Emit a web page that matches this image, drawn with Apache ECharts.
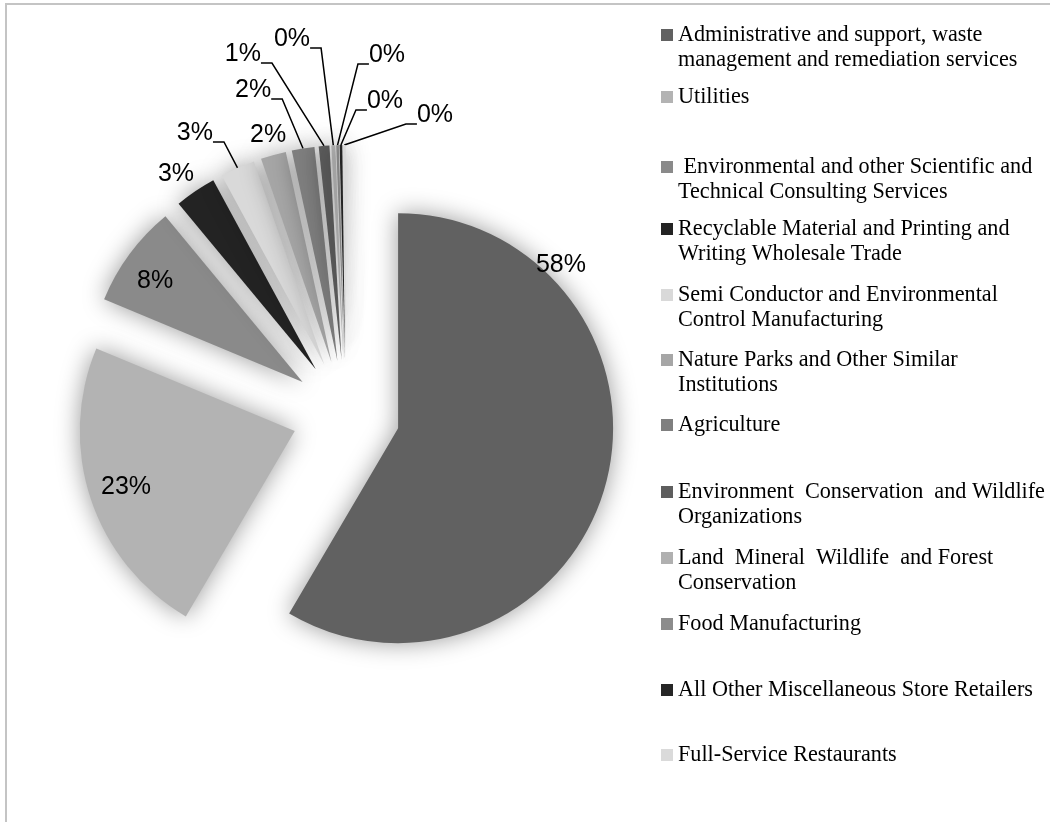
<!DOCTYPE html>
<html>
<head>
<meta charset="utf-8">
<script src="https://cdn.jsdelivr.net/npm/echarts@6/dist/echarts.min.js"></script>
<style>
  html, body { margin: 0; padding: 0; background: #fff; }
  #chart { width: 1050px; height: 822px; }
</style>
</head>
<body>
<div id="chart"></div>
<script>
// ---- data ----
const categories = [
  "Administrative and support, waste\nmanagement and remediation services",
  "Utilities",
  " Environmental and other Scientific and\nTechnical Consulting Services",
  "Recyclable Material and Printing and\nWriting Wholesale Trade",
  "Semi Conductor and Environmental\nControl Manufacturing",
  "Nature Parks and Other Similar\nInstitutions",
  "Agriculture",
  "Environment  Conservation  and Wildlife\nOrganizations",
  "Land  Mineral  Wildlife  and Forest\nConservation",
  "Food Manufacturing",
  "All Other Miscellaneous Store Retailers",
  "Full-Service Restaurants"
];
const shares = [58.4, 22.8, 7.7, 3.1, 2.6, 1.9, 1.7, 0.8, 0.3, 0.2, 0.2, 0.2];

// ---- styling / layout (not data) ----
const sliceColors = ["#616161", "#b3b3b3", "#8a8a8a", "#232323", "#d9d9d9", "#a6a6a6",
                     "#7f7f7f", "#5e5e5e", "#b0b0b0", "#8c8c8c", "#262626", "#dadada"];
// leader side: 0 = no leader, 1 = leader leaves the label to the right, -1 = to the left
const leaderSide = [0, 0, 0, 0, 1, 0, 1, 1, 1, -1, -1, -1];
// label placement: [angle clockwise from 12 o'clock (deg), distance from pie centre (px)]
const labelSpots = [
  [54.9, 262.7], [252.1, 231.2], [305.3, 233.9], [324.9, 295.7], [331.9, 320.8], [344.5, 291.6],
  [344.1, 339.0], [344.1, 376.4], [351.85, 380.8], [6.48, 363.3], [7.06, 317.4], [16.47, 313.9]
];
// legend: y of the first text line of each entry
const legendLineY = [33, 95, 165, 227, 293, 358, 423, 490, 556, 622, 688, 753];

const CX = 346, CY = 414, R = 215, EXPLODE = 54;
const LEGEND_FONT = "'Liberation Serif', 'Times New Roman', serif";
const LABEL_FONT = "'Liberation Sans', Arial, sans-serif";
const LEADER_TAIL = 11;

const chart = echarts.init(document.getElementById('chart'), null, { renderer: 'canvas' });

const legends = categories.map(function (name, i) {
  const twoLines = name.indexOf('\n') >= 0;
  return {
    data: [{ name: name, itemStyle: { color: sliceColors[i] } }],
    orient: 'vertical',
    left: 661,
    top: legendLineY[i] + 2 - (twoLines ? 37.5 : 12.5),
    padding: 0,
    icon: 'rect',
    itemWidth: 12,
    itemHeight: 12,
    selectedMode: false,
    // a blank first line keeps the marker level with the first text line
    formatter: function (n) { return twoLines ? ' \n' + n : n; },
    textStyle: {
      fontFamily: LEGEND_FONT,
      fontSize: 22.2,
      lineHeight: 25,
      color: '#000'
    }
  };
});

const option = {
  animation: false,
  backgroundColor: '#fff',
  graphic: [{
    type: 'rect',
    silent: true,
    shape: { x: 6, y: 4, width: 1200, height: 1000 },
    style: { fill: 'none', stroke: '#c4c4c4', lineWidth: 2 }
  }],
  legend: legends,
  series: [{
    // the exploded slices
    type: 'pie',
    center: [CX, CY],
    radius: R,
    startAngle: 90,
    clockwise: true,
    selectedMode: 'multiple',
    selectedOffset: EXPLODE,
    emphasis: { disabled: true },
    label: { show: false },
    labelLine: { show: false },
    itemStyle: {
      borderWidth: 0,
      shadowBlur: 24,
      shadowColor: 'rgba(0,0,0,0.4)'
    },
    data: categories.map(function (name, i) {
      return { name: name, value: shares[i], selected: true, itemStyle: { color: sliceColors[i] } };
    })
  }, {
    // transparent twin reaching to the exploded rims: carries the percentage labels
    type: 'pie',
    silent: true,
    center: [CX, CY],
    radius: R + EXPLODE,
    startAngle: 90,
    clockwise: true,
    avoidLabelOverlap: false,
    emphasis: { disabled: true },
    itemStyle: { color: 'rgba(0,0,0,0)', borderWidth: 0 },
    label: {
      show: true,
      position: 'outside',
      fontFamily: LABEL_FONT,
      fontSize: 25,
      color: '#000',
      padding: [0, 8],
      formatter: function (p) { return Math.round(p.percent) + '%'; }
    },
    labelLine: {
      show: false,
      length: 10,
      length2: LEADER_TAIL,
      lineStyle: { color: '#000', width: 1.5 }
    },
    labelLayout: function (p) {
      const i = p.dataIndex;
      const s = labelSpots[i];
      const a = s[0] * Math.PI / 180;
      const x = CX + s[1] * Math.sin(a);
      const y = CY - s[1] * Math.cos(a) + 2;
      const res = { x: x, y: y, align: 'center', verticalAlign: 'middle' };
      const side = leaderSide[i];
      const pts = p.labelLinePoints;
      if (side && pts && pts.length) {
        const ax = x + side * p.labelRect.width / 2;
        const ay = y + 9;
        res.labelLinePoints = [pts[0].slice(), [ax + side * LEADER_TAIL, ay], [ax, ay]];
      }
      return res;
    },
    data: categories.map(function (name, i) {
      return { name: name, value: shares[i], labelLine: { show: leaderSide[i] !== 0 } };
    })
  }]
};

chart.setOption(option);
</script>
</body>
</html>
